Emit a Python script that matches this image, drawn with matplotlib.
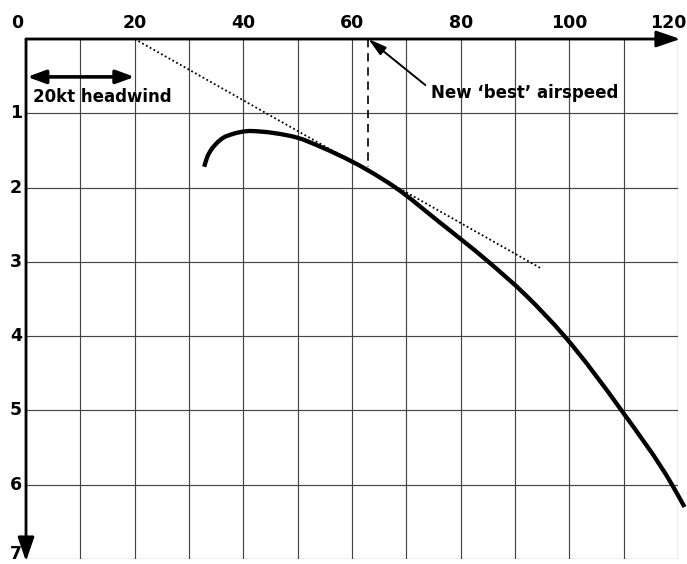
import matplotlib
matplotlib.use("Agg")
import matplotlib.pyplot as plt
from matplotlib.path import Path
from matplotlib.patches import PathPatch

# Airspeed (kt) along the top scale, rate of descent downwards
speed = [32.8, 33.3, 34.0, 35.0, 36.3, 38.0, 40.7, 43.0, 46.0, 50.0, 54.5,
         60.0, 63.0, 68.0, 76.0, 84.8, 92.0, 99.1, 109.6, 118.9, 121.2]
descent = [1.72, 1.60, 1.50, 1.41, 1.33, 1.28, 1.24, 1.245, 1.27, 1.33, 1.46,
           1.65, 1.77, 2.00, 2.46, 2.98, 3.45, 4.00, 5.00, 6.00, 6.30]

x_ticks = [0, 20, 40, 60, 80, 100, 120]
y_ticks = [1, 2, 3, 4, 5, 6, 7]

headwind = 20           # kt, origin of the tangent
tangent_end = (94.6, 3.08)
best_speed = 63         # kt, tangent point
best_mark_depth = 1.72


def smooth_path(xs, ys):
    """Cubic Hermite curve through the points (non-uniform spacing),
    expressed as Bezier segments."""
    n = len(xs)
    h = [xs[i + 1] - xs[i] for i in range(n - 1)]
    d = [(ys[i + 1] - ys[i]) / h[i] for i in range(n - 1)]
    m = [d[0]]
    for i in range(1, n - 1):
        m.append((d[i - 1] * h[i] + d[i] * h[i - 1]) / (h[i - 1] + h[i]))
    m.append(d[-1])
    verts = [(xs[0], ys[0])]
    codes = [Path.MOVETO]
    for i in range(n - 1):
        verts += [(xs[i] + h[i] / 3, ys[i] + m[i] * h[i] / 3),
                  (xs[i + 1] - h[i] / 3, ys[i + 1] - m[i + 1] * h[i] / 3),
                  (xs[i + 1], ys[i + 1])]
        codes += [Path.CURVE4] * 3
    return Path(verts, codes)


W, H = 687, 564
fig = plt.figure(figsize=(W / 100, H / 100), dpi=100)
ax = fig.add_axes([26 / W, 5 / H, 652 / W, 520 / H])
ax.set_xlim(0, 120)
ax.set_ylim(7, 0)

for s in ax.spines.values():
    s.set_visible(False)
ax.set_xticks(range(0, 121, 10))
ax.set_yticks(range(0, 8))
ax.tick_params(length=0, labelbottom=False, labelleft=False)
ax.grid(True, color="#454545", lw=0.85)

font = dict(family="DejaVu Sans", weight="bold", color="black")

# Axis lines with arrow heads
axis_arrow = dict(arrowstyle="-|>,head_length=1.45,head_width=0.5", lw=2.0,
                  color="black", shrinkA=0, shrinkB=0, mutation_scale=10)
ax.annotate("", xy=(120.4, 0), xytext=(0, 0), arrowprops=axis_arrow,
            annotation_clip=False)
ax.annotate("", xy=(0, 7.03), xytext=(0, 0), arrowprops=axis_arrow,
            annotation_clip=False)

# Tick labels
x_shift = {0: -6.5, 120: -7}
for v in x_ticks:
    ax.annotate(str(v), xy=(v, 0), xytext=(x_shift.get(v, 0), 8),
                textcoords="offset points", ha="center", va="baseline",
                fontsize=12.5, annotation_clip=False, **font)
y_shift = {7: 3.5}
for v in y_ticks:
    ax.annotate(str(v), xy=(0, v), xytext=(-3, y_shift.get(v, 0)),
                textcoords="offset points", ha="right", va="center",
                fontsize=12.5, annotation_clip=False, **font)

# Rate-of-descent curve
ax.add_patch(PathPatch(smooth_path(speed, descent), fill=False, edgecolor="black",
                       lw=3.1, capstyle="butt", clip_on=False, zorder=5))

# Tangent drawn from the headwind point
ax.plot([headwind, tangent_end[0]], [0, tangent_end[1]], color="black",
        lw=1.3, ls=(0, (1, 1.4)), zorder=4)

# Best-airspeed marker
ax.plot([best_speed, best_speed], [0, best_mark_depth], color="black",
        lw=1.2, ls=(0, (5, 3.5)), zorder=4)
ax.annotate("", xy=(best_speed, 0), xytext=(73.5, 0.62),
            arrowprops=dict(arrowstyle="-|>,head_length=1.1,head_width=0.3",
                            lw=1.4, color="black", shrinkA=0, shrinkB=0,
                            mutation_scale=10))
ax.text(74.5, 0.73, "New \u2018best\u2019 airspeed", ha="left", va="center",
        fontsize=12, **font)

# Headwind span
ax.annotate("", xy=(0.2, 0.51), xytext=(headwind, 0.51),
            arrowprops=dict(arrowstyle="<|-|>,head_length=1.1,head_width=0.4",
                            lw=2.6, color="black", shrinkA=0, shrinkB=0,
                            mutation_scale=10))
ax.text(1.3, 0.78, "20kt headwind", ha="left", va="center", fontsize=12, **font)

fig.savefig("out.png", dpi=100, facecolor="white")
